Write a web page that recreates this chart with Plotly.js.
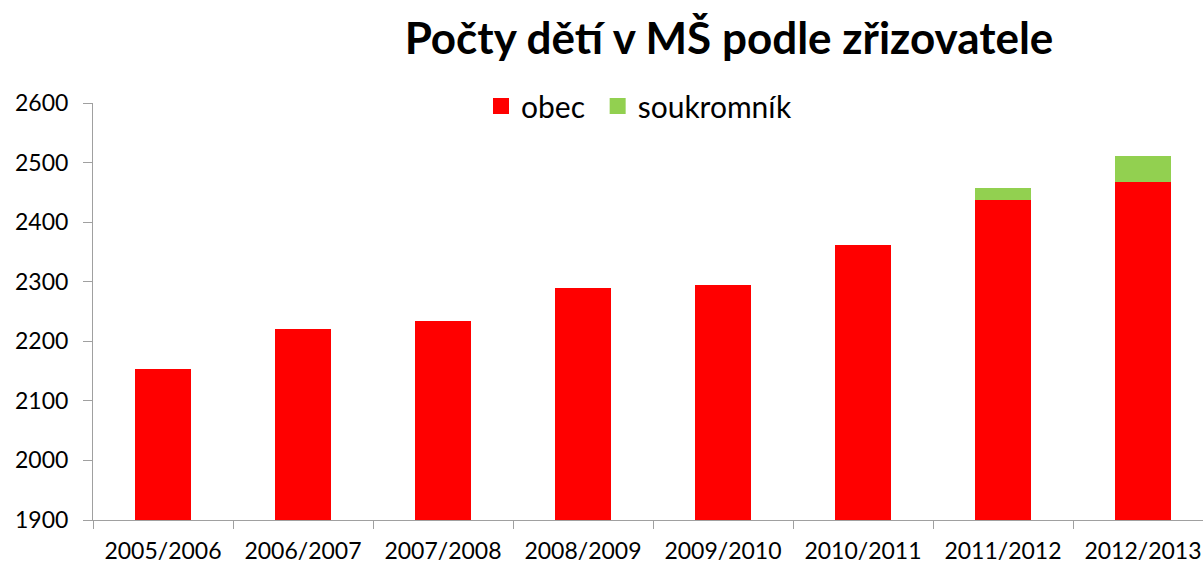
<!DOCTYPE html>
<html>
<head>
<meta charset="utf-8">
<script src="https://cdn.plot.ly/plotly-3.0.1.min.js"></script>
<style>html,body{margin:0;padding:0;background:#fff;}#chart{width:1203px;height:564px;}</style>
</head>
<body>
<div id="chart"></div>
<script>
const categories = ["2005/2006","2006/2007","2007/2008","2008/2009","2009/2010","2010/2011","2011/2012","2012/2013"];
const obec = [2153, 2220, 2234, 2290, 2294, 2362, 2437, 2467];
const soukromnik = [0, 0, 0, 0, 0, 0, 20, 44];
const yTicks = [1900, 2000, 2100, 2200, 2300, 2400, 2500, 2600];
const seriesNames = ["obec", "soukromník"];
const seriesColors = ["#FF0000", "#92D050"];

const FONT = "Lato, 'Open Sans', sans-serif";

const traces = [
  {type: "bar", name: seriesNames[0], x: categories, y: obec,
   marker: {color: seriesColors[0]}, width: 0.4, showlegend: false},
  {type: "bar", name: seriesNames[1], x: categories, y: soukromnik,
   marker: {color: seriesColors[1]}, width: 0.4, showlegend: false},
  // legend-only entries (larger square swatches); trailing nbsp widens the gap between entries
  {type: "scatter", mode: "markers", name: seriesNames[0] + "\u00A0", x: [null], y: [null],
   marker: {symbol: "square", size: 18, color: seriesColors[0]}},
  {type: "scatter", mode: "markers", name: seriesNames[1], x: [null], y: [null],
   marker: {symbol: "square", size: 18, color: seriesColors[1]}}
];

const layout = {
  width: 1203, height: 564,
  barmode: "stack",
  paper_bgcolor: "#fff", plot_bgcolor: "#fff",
  margin: {l: 93, r: 0, t: 103, b: 44, pad: 0, autoexpand: false},
  font: {family: FONT, color: "#000"},
  title: {text: "<b>Počty dětí v MŠ podle zřizovatele</b>", font: {family: FONT, size: 44, color: "#000"},
          x: 729/1203, xref: "container", xanchor: "center", y: 1 - 39/564, yref: "container", yanchor: "middle"},
  showlegend: true,
  legend: {orientation: "h", xref: "container", yref: "container", x: 481/1203, xanchor: "left",
           y: 1 - 106/564, yanchor: "middle", font: {family: FONT, size: 30, color: "#000"},
           traceorder: "normal", itemwidth: 30, bgcolor: "rgba(0,0,0,0)"},
  xaxis: {type: "category", range: [-0.5, 7.5 - 10/140], tickson: "boundaries", ticks: "outside",
          ticklen: 8, tickcolor: "#a0a0a0", showline: true, linecolor: "#a0a0a0", linewidth: 1,
          ticklabelstandoff: 10,
          showgrid: false, zeroline: false, tickfont: {family: FONT, size: 23, color: "#000"}, fixedrange: true},
  yaxis: {range: [1900, 2600], tickvals: yTicks, ticktext: yTicks.map(String), ticks: "outside",
          ticklen: 9, tickcolor: "#a0a0a0", showline: true, linecolor: "#a0a0a0", linewidth: 1,
          ticklabelstandoff: 10,
          showgrid: false, zeroline: false, tickfont: {family: FONT, size: 23, color: "#000"}, fixedrange: true}
};

Plotly.newPlot("chart", traces, layout, {displayModeBar: false, staticPlot: true});
</script>
</body>
</html>
